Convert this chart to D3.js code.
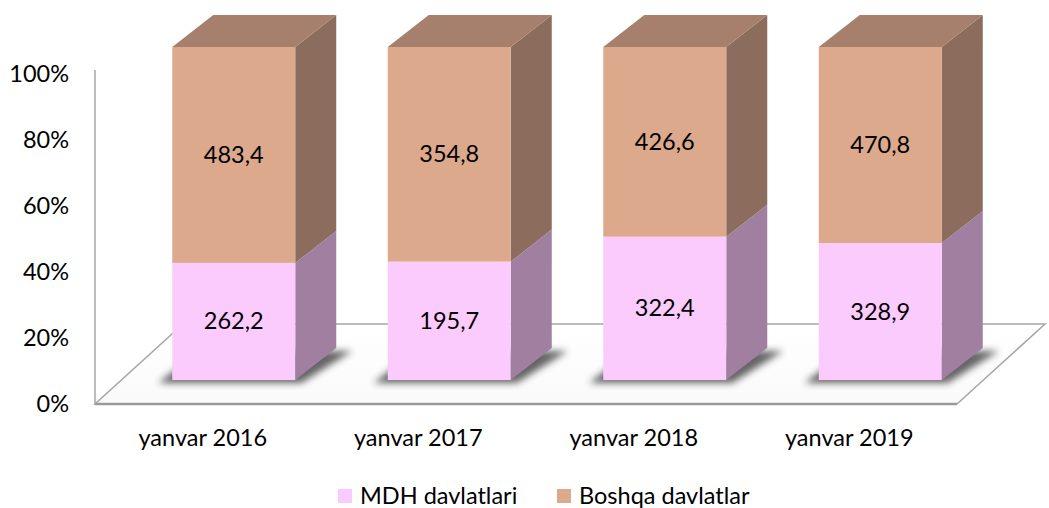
<!DOCTYPE html>
<html>
<head>
<meta charset="utf-8">
<script src="https://cdn.jsdelivr.net/npm/d3@7"></script>
<style>
  body { margin: 0; background: #fff; }
  text { font-family: Lato, "Open Sans", sans-serif; fill: #000; }
</style>
</head>
<body>
<script>
// chart values
var categories = ["yanvar 2016", "yanvar 2017", "yanvar 2018", "yanvar 2019"];
var mdh = [262.2, 195.7, 322.4, 328.9];
var boshqa = [483.4, 354.8, 426.6, 470.8];
var yTicks = [0, 0.2, 0.4, 0.6, 0.8, 1];
var seriesNames = ["MDH davlatlari", "Boshqa davlatlar"];

function draw() {
    var width = 1049, height = 508, fs = "23.5px";

    var svg = d3.select("body").append("svg")
        .attr("width", width)
        .attr("height", height);

    var defs = svg.append("defs");
    defs.append("filter").attr("id", "blur")
        .attr("x", "-50%").attr("y", "-50%").attr("width", "200%").attr("height", "200%")
        .append("feGaussianBlur").attr("stdDeviation", 3.5);
    var grad = defs.append("linearGradient").attr("id", "floor")
        .attr("x1", 0).attr("y1", 0).attr("x2", 0).attr("y2", 1);
    grad.append("stop").attr("offset", 0).attr("stop-color", "#ffffff");
    grad.append("stop").attr("offset", 1).attr("stop-color", "#fafafa");

    // scales
    var x = d3.scaleBand(categories, [95, 957]);
    var y = d3.scaleLinear([0, 1], [404, 74]);
    var yBar = d3.scaleLinear([0, 1], [380, 47]);
    var floorDx = 88, floorDy = -80;
    var barDx = 41, barDy = -32, barW = 123, barShift = 31;

    // floor
    var x0 = x.range()[0], x1 = x.range()[1], yf = y(0);
    svg.append("path")
        .attr("d", d3.line()([[x0, yf], [x1, yf], [x1 + floorDx, yf + floorDy], [x0 + floorDx, yf + floorDy]]) + "Z")
        .attr("fill", "url(#floor)")
        .attr("stroke", "#a6a6a6")
        .attr("stroke-width", 1.5);
    svg.append("line")
        .attr("x1", x0).attr("x2", x1).attr("y1", yf).attr("y2", yf)
        .attr("stroke", "#9a9a9a").attr("stroke-width", 2.5);

    // vertical axis
    svg.append("line")
        .attr("x1", x0).attr("x2", x0).attr("y1", y(1) - 4).attr("y2", yf)
        .attr("stroke", "#a6a6a6").attr("stroke-width", 1.5);
    var axis = svg.append("g")
        .attr("transform", "translate(" + x0 + ",0)")
        .call(d3.axisLeft(y).tickValues(yTicks).tickFormat(d3.format(".0%")).tickSize(0).tickPadding(26));
    axis.select(".domain").remove();
    axis.selectAll("text").style("font-size", fs).style("font-family", "Lato, sans-serif").attr("fill", "#000");

    // category labels
    svg.append("g").selectAll("text")
        .data(categories)
        .enter().append("text")
        .attr("x", function(d) { return x(d) + x.bandwidth() / 2; })
        .attr("y", 446)
        .attr("text-anchor", "middle")
        .style("font-size", fs)
        .text(function(d) { return d; });

    var rows = categories.map(function(c, i) {
        var total = mdh[i] + boshqa[i];
        return {
            cat: c,
            left: x(c) + x.bandwidth() / 2 + barShift - barW / 2,
            segs: [
                { v: mdh[i], from: 0, to: mdh[i] / total, front: "#fccbfd", side: "#a07fa0", top: "#c9a0c9" },
                { v: boshqa[i], from: mdh[i] / total, to: 1, front: "#dca98d", side: "#8b6c5d", top: "#a6806c" }
            ]
        };
    });

    // shadows
    svg.append("g").selectAll("path")
        .data(rows)
        .enter().append("path")
        .attr("d", function(r) {
            var l = r.left - 14, rt = r.left + barW + 6, b = yBar(0) + 3;
            return d3.line()([[l, b], [rt, b], [rt + barDx + 10, b + barDy], [l + barDx, b + barDy]]) + "Z";
        })
        .attr("fill", "#333")
        .attr("opacity", 0.75)
        .attr("filter", "url(#blur)");

    // bars
    var bars = svg.append("g").selectAll("g")
        .data(rows)
        .enter().append("g");

    bars.each(function(r) {
        var g = d3.select(this);
        var L = r.left, R = r.left + barW;
        r.segs.forEach(function(s) {
            var yb = yBar(s.from), yt = yBar(s.to);
            g.append("path")
                .attr("d", d3.line()([[R, yb], [R + barDx, yb + barDy], [R + barDx, yt + barDy], [R, yt]]) + "Z")
                .attr("fill", s.side);
            g.append("rect")
                .attr("x", L).attr("y", yt)
                .attr("width", barW).attr("height", yb - yt)
                .attr("fill", s.front);
            g.append("text")
                .attr("x", L + barW / 2)
                .attr("y", (yb + yt) / 2 + 8)
                .attr("text-anchor", "middle")
                .style("font-size", fs)
                .text(d3.format(".1f")(s.v).replace(".", ","));
        });
        var top = yBar(1);
        g.append("path")
            .attr("d", d3.line()([[L, top], [R, top], [R + barDx, top + barDy], [L + barDx, top + barDy]]) + "Z")
            .attr("fill", r.segs[1].top);
    });

    // legend
    var legendColors = ["#fccbfd", "#dca98d"];
    var legendX = [338, 557];
    var legend = svg.append("g").selectAll("g")
        .data(seriesNames)
        .enter().append("g")
        .attr("transform", function(d, i) { return "translate(" + legendX[i] + ",489)"; });
    legend.append("rect")
        .attr("width", 14).attr("height", 14)
        .attr("fill", function(d, i) { return legendColors[i]; });
    legend.append("text")
        .attr("x", 22).attr("y", 15)
        .style("font-size", fs)
        .text(function(d) { return d; });
}

draw();
</script>
</body>
</html>
